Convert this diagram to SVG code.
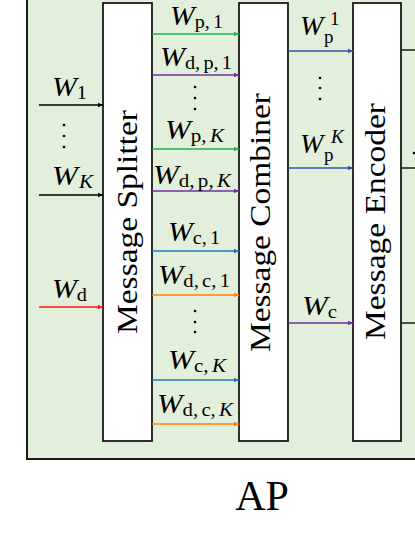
<svg xmlns="http://www.w3.org/2000/svg" width="415" height="537" viewBox="0 0 415 537">
<style>
.box{fill:#ffffff;stroke:#1a1a1a;stroke-width:1.8}
.vt{font-family:"Liberation Serif","Times New Roman",serif;font-size:29px;fill:#000}
.m{font-family:"Liberation Serif","Times New Roman",serif;font-size:28px;fill:#000;font-style:italic}
.s{font-size:19px;font-style:normal}
.i{font-style:italic}
.ln{fill:none;stroke-width:1.3}
.dot{fill:#000}
</style>
<defs>
<marker id="aK" markerUnits="userSpaceOnUse" markerWidth="6" markerHeight="6" refX="5" refY="3" orient="auto"><path d="M0,0.8 L5,3 L0,5.2 z" fill="#000"/></marker>
<marker id="aR" markerUnits="userSpaceOnUse" markerWidth="6" markerHeight="6" refX="5" refY="3" orient="auto"><path d="M0,0.8 L5,3 L0,5.2 z" fill="#ff1a1a"/></marker>
<marker id="aG" markerUnits="userSpaceOnUse" markerWidth="6" markerHeight="6" refX="5" refY="3" orient="auto"><path d="M0,0.8 L5,3 L0,5.2 z" fill="#1db34e"/></marker>
<marker id="aP" markerUnits="userSpaceOnUse" markerWidth="6" markerHeight="6" refX="5" refY="3" orient="auto"><path d="M0,0.8 L5,3 L0,5.2 z" fill="#7030a0"/></marker>
<marker id="aB" markerUnits="userSpaceOnUse" markerWidth="6" markerHeight="6" refX="5" refY="3" orient="auto"><path d="M0,0.8 L5,3 L0,5.2 z" fill="#1b79c4"/></marker>
<marker id="aO" markerUnits="userSpaceOnUse" markerWidth="6" markerHeight="6" refX="5" refY="3" orient="auto"><path d="M0,0.8 L5,3 L0,5.2 z" fill="#ff7f0e"/></marker>
<marker id="aD" markerUnits="userSpaceOnUse" markerWidth="6" markerHeight="6" refX="5" refY="3" orient="auto"><path d="M0,0.8 L5,3 L0,5.2 z" fill="#2e56a6"/></marker>
</defs>
<rect width="415" height="537" fill="#ffffff"/>
<g id="ap">
<rect x="27" y="-10" width="400" height="469" fill="#e2efda" stroke="#1a1a1a" stroke-width="2"/>
<text x="262" y="510" text-anchor="middle" font-family="'Liberation Serif','Times New Roman',serif" font-size="42" fill="#000">AP</text>
</g>
<g id="splitter">
<rect class="box" x="103" y="3" width="49" height="438"/>
<text class="vt" transform="translate(137,334) rotate(-90)" textLength="224" lengthAdjust="spacingAndGlyphs">Message Splitter</text>
</g>
<g id="combiner">
<rect class="box" x="239" y="3" width="49" height="438"/>
<text class="vt" transform="translate(270,352) rotate(-90)" textLength="259" lengthAdjust="spacingAndGlyphs">Message Combiner</text>
</g>
<g id="encoder">
<rect class="box" x="353" y="3" width="48" height="438"/>
<text class="vt" transform="translate(385,340) rotate(-90)" textLength="237" lengthAdjust="spacingAndGlyphs">Message Encoder</text>
</g>
<g id="connectors">
<line class="ln" x1="39" y1="105" x2="103" y2="105" stroke="#000" marker-end="url(#aK)"/>
<line class="ln" x1="39" y1="195" x2="103" y2="195" stroke="#000" marker-end="url(#aK)"/>
<line class="ln" x1="39" y1="307" x2="103" y2="307" stroke="#ff1a1a" marker-end="url(#aR)"/>
<line class="ln" x1="152" y1="34" x2="239" y2="34" stroke="#1db34e" marker-end="url(#aG)"/>
<line class="ln" x1="152" y1="75" x2="239" y2="75" stroke="#7030a0" marker-end="url(#aP)"/>
<line class="ln" x1="152" y1="149" x2="239" y2="149" stroke="#1db34e" marker-end="url(#aG)"/>
<line class="ln" x1="152" y1="191" x2="239" y2="191" stroke="#7030a0" marker-end="url(#aP)"/>
<line class="ln" x1="152" y1="251" x2="239" y2="251" stroke="#1b79c4" marker-end="url(#aB)"/>
<line class="ln" x1="152" y1="295" x2="239" y2="295" stroke="#ff7f0e" marker-end="url(#aO)"/>
<line class="ln" x1="152" y1="380" x2="239" y2="380" stroke="#1b79c4" marker-end="url(#aB)"/>
<line class="ln" x1="152" y1="424" x2="239" y2="424" stroke="#ff7f0e" marker-end="url(#aO)"/>
<line class="ln" x1="288" y1="51" x2="353" y2="51" stroke="#2e56a6" marker-end="url(#aD)"/>
<line class="ln" x1="288" y1="168" x2="353" y2="168" stroke="#2e56a6" marker-end="url(#aD)"/>
<line class="ln" x1="288" y1="323" x2="353" y2="323" stroke="#7030a0" marker-end="url(#aP)"/>
<line x1="401" y1="50" x2="416" y2="50" stroke="#1a1a1a" stroke-width="1.5"/>
<line x1="401" y1="168" x2="416" y2="168" stroke="#1a1a1a" stroke-width="1.5"/>
<line x1="401" y1="323" x2="416" y2="323" stroke="#1a1a1a" stroke-width="1.5"/>
</g>
<g id="labels">
<text class="m" x="52" y="96" textLength="35" lengthAdjust="spacingAndGlyphs">W<tspan class="s" dy="3">1</tspan></text>
<text class="m" x="52" y="185" textLength="41" lengthAdjust="spacingAndGlyphs">W<tspan class="s i" dy="3" dx="1">K</tspan></text>
<text class="m" x="52" y="298" textLength="35" lengthAdjust="spacingAndGlyphs">W<tspan class="s" dy="3">d</tspan></text>
<text class="m" x="170" y="25" textLength="53" lengthAdjust="spacingAndGlyphs">W<tspan class="s" dy="3">p,</tspan><tspan class="s" dx="3">1</tspan></text>
<text class="m" x="160" y="66" textLength="72" lengthAdjust="spacingAndGlyphs">W<tspan class="s" dy="3">d,</tspan><tspan class="s" dx="3">p,</tspan><tspan class="s" dx="3">1</tspan></text>
<text class="m" x="165" y="139" textLength="59" lengthAdjust="spacingAndGlyphs">W<tspan class="s" dy="3">p,</tspan><tspan class="s i" dx="3">K</tspan></text>
<text class="m" x="153" y="184" textLength="78" lengthAdjust="spacingAndGlyphs">W<tspan class="s" dy="3">d,</tspan><tspan class="s" dx="3">p,</tspan><tspan class="s i" dx="3">K</tspan></text>
<text class="m" x="168" y="241" textLength="52" lengthAdjust="spacingAndGlyphs">W<tspan class="s" dy="3">c,</tspan><tspan class="s" dx="3">1</tspan></text>
<text class="m" x="158" y="284" textLength="72" lengthAdjust="spacingAndGlyphs">W<tspan class="s" dy="3">d,</tspan><tspan class="s" dx="3">c,</tspan><tspan class="s" dx="3">1</tspan></text>
<text class="m" x="168" y="369" textLength="58" lengthAdjust="spacingAndGlyphs">W<tspan class="s" dy="3">c,</tspan><tspan class="s i" dx="3">K</tspan></text>
<text class="m" x="157" y="413" textLength="76" lengthAdjust="spacingAndGlyphs">W<tspan class="s" dy="3">d,</tspan><tspan class="s" dx="3">c,</tspan><tspan class="s i" dx="3">K</tspan></text>
<text class="m" x="300" y="35">W</text>
<text class="m s" x="324" y="43">p</text>
<text class="m s" x="330" y="25">1</text>
<text class="m" x="300" y="153">W</text>
<text class="m s" x="324" y="161">p</text>
<text class="m s i" x="331" y="143">K</text>
<text class="m" x="302" y="315" textLength="35" lengthAdjust="spacingAndGlyphs">W<tspan class="s" dy="3">c</tspan></text>
</g>
<g id="dots">
<circle class="dot" cx="64" cy="125" r="1.3"/><circle class="dot" cx="64" cy="136" r="1.3"/><circle class="dot" cx="64" cy="147" r="1.3"/>
<circle class="dot" cx="195" cy="87" r="1.3"/><circle class="dot" cx="195" cy="98" r="1.3"/><circle class="dot" cx="195" cy="109" r="1.3"/>
<circle class="dot" cx="195" cy="311" r="1.3"/><circle class="dot" cx="195" cy="322" r="1.3"/><circle class="dot" cx="195" cy="332" r="1.3"/>
<circle class="dot" cx="320" cy="78" r="1.3"/><circle class="dot" cx="320" cy="88" r="1.3"/><circle class="dot" cx="320" cy="99" r="1.3"/>
<circle class="dot" cx="414" cy="153" r="1.3"/>
</g>
</svg>
